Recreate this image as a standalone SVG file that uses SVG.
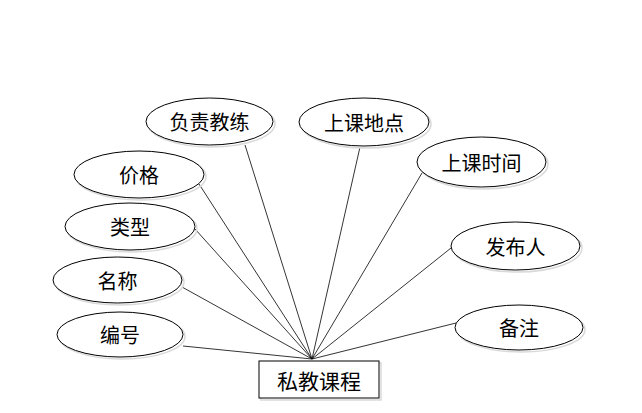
<svg xmlns="http://www.w3.org/2000/svg" width="642" height="413" viewBox="0 0 642 413">
<style>
.e{fill:#fff;stroke:#000;stroke-width:1}
.s{fill:none;stroke:#d9d9d9;stroke-width:1.5}
.t{font-family:"Noto Sans CJK SC","Liberation Sans",sans-serif;font-size:20px;text-anchor:middle;dominant-baseline:central;fill:#000}
.c line{stroke:#000;stroke-width:0.8}
</style>
<rect width="642" height="413" fill="#fff"/>
<g class="c" id="connectors">
<line x1="245" y1="145" x2="312" y2="359"/>
<line x1="199" y1="184" x2="312" y2="359"/>
<line x1="195" y1="229" x2="312" y2="359"/>
<line x1="182" y1="287" x2="312" y2="359"/>
<line x1="183" y1="346" x2="312" y2="359"/>
<line x1="360" y1="147" x2="312" y2="359"/>
<line x1="422" y1="173" x2="312" y2="359"/>
<line x1="451" y1="248" x2="312" y2="359"/>
<line x1="456" y1="323" x2="312" y2="359"/>
</g>
<g id="n-fuzejiaolian"><ellipse class="s" cx="211.5" cy="123.5" rx="63.5" ry="23.5"/><ellipse class="e" cx="209.5" cy="121.5" rx="63.5" ry="23.5"/><text class="t" x="209.5" y="121.5">负责教练</text></g>
<g id="n-jiage"><ellipse class="s" cx="141" cy="176.5" rx="65" ry="23.5"/><ellipse class="e" cx="139" cy="174.5" rx="65" ry="23.5"/><text class="t" x="139" y="174.5">价格</text></g>
<g id="n-leixing"><ellipse class="s" cx="132" cy="228.5" rx="65" ry="23.5"/><ellipse class="e" cx="130" cy="226.5" rx="65" ry="23.5"/><text class="t" x="130" y="226.5">类型</text></g>
<g id="n-mingcheng"><ellipse class="s" cx="119.5" cy="282" rx="64.5" ry="23"/><ellipse class="e" cx="117.5" cy="280" rx="64.5" ry="23"/><text class="t" x="117.5" y="280">名称</text></g>
<g id="n-bianhao"><ellipse class="s" cx="122" cy="336.5" rx="63" ry="22.5"/><ellipse class="e" cx="120" cy="334.5" rx="63" ry="22.5"/><text class="t" x="120" y="334.5">编号</text></g>
<g id="n-shangkedidian"><ellipse class="s" cx="366" cy="124" rx="65" ry="24"/><ellipse class="e" cx="364" cy="122" rx="65" ry="24"/><text class="t" x="364" y="122">上课地点</text></g>
<g id="n-shangkeshijian"><ellipse class="s" cx="483.5" cy="164" rx="64.5" ry="25"/><ellipse class="e" cx="481.5" cy="162" rx="64.5" ry="25"/><text class="t" x="481.5" y="162">上课时间</text></g>
<g id="n-faburen"><ellipse class="s" cx="517.5" cy="248" rx="64.5" ry="24"/><ellipse class="e" cx="515.5" cy="246" rx="64.5" ry="24"/><text class="t" x="515.5" y="246">发布人</text></g>
<g id="n-beizhu"><ellipse class="s" cx="521" cy="329.5" rx="64" ry="22.5"/><ellipse class="e" cx="519" cy="327.5" rx="64" ry="22.5"/><text class="t" x="519" y="327.5">备注</text></g>
<g id="n-sijiaokecheng"><rect x="261" y="363" width="120" height="37" fill="none" stroke="#d9d9d9" stroke-width="1.5"/><rect class="e" x="259" y="361" width="120" height="37"/><text class="t" x="319" y="379.5" style="font-size:21px">私教课程</text></g>
</svg>
